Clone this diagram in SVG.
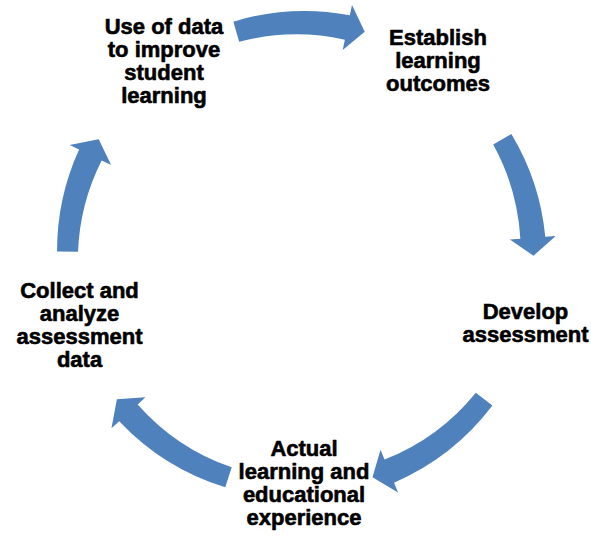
<svg xmlns="http://www.w3.org/2000/svg" width="591" height="540" viewBox="0 0 591 540">
  <style>
    .arrow { fill: #4F81BD; }
    .label { font-family: "Liberation Sans", Arial, sans-serif; font-weight: bold; font-size: 22px; fill: #000; stroke: #000; stroke-width: 0.6; stroke-linejoin: round; text-anchor: middle; }
  </style>
  <rect width="591" height="540" fill="#ffffff"/>

  <!-- curved cycle arrows around a common centre (300.5, 255.7), r = 233 -->
  <g id="connectors">
    <path class="arrow" d="M233.38,21.63 A244.5,244.5 0 0 1 349.87,15.21 L351.98,4.93 L364.72,31.73 L342.73,49.99 L344.84,39.70 A221.5,221.5 0 0 0 239.17,41.82 Z"/>
    <path class="arrow" d="M511.38,133.95 A244.5,244.5 0 0 1 545.28,236.87 L555.74,236.06 L533.50,255.70 L509.88,239.59 L520.35,238.78 A221.5,221.5 0 0 0 493.19,144.45 Z"/>
    <path class="arrow" d="M492.38,405.61 A244.5,244.5 0 0 1 394.05,482.68 L398.05,492.38 L372.50,477.30 L380.52,449.86 L384.53,459.56 A221.5,221.5 0 0 0 475.83,392.68 Z"/>
    <path class="arrow" d="M225.25,487.28 A244.5,244.5 0 0 1 119.21,421.24 L111.45,428.32 L116.89,399.15 L145.42,397.30 L137.67,404.38 A221.5,221.5 0 0 0 231.74,467.31 Z"/>
    <path class="arrow" d="M57.04,251.45 A244.5,244.5 0 0 1 79.10,149.62 L69.63,145.08 L98.72,139.20 L111.12,164.96 L101.65,160.42 A221.5,221.5 0 0 0 78.03,251.82 Z"/>
  </g>

  <g id="use-of-data">
    <text class="label" x="164" y="34.3">Use of data<tspan x="164" dy="23">to improve</tspan><tspan x="164" dy="23">student</tspan><tspan x="164" dy="23">learning</tspan></text>
  </g>
  <g id="establish-outcomes">
    <text class="label" x="438" y="45">Establish<tspan x="438" dy="23">learning</tspan><tspan x="438" dy="23">outcomes</tspan></text>
  </g>
  <g id="develop-assessment">
    <text class="label" x="525.5" y="319.3">Develop<tspan x="525.5" dy="23">assessment</tspan></text>
  </g>
  <g id="learning-experience">
    <text class="label" x="304" y="456">Actual<tspan x="304" dy="23">learning and</tspan><tspan x="304" dy="23">educational</tspan><tspan x="304" dy="23">experience</tspan></text>
  </g>
  <g id="collect-analyze">
    <text class="label" x="79.5" y="298">Collect and<tspan x="79.5" dy="23">analyze</tspan><tspan x="79.5" dy="23">assessment</tspan><tspan x="79.5" dy="23">data</tspan></text>
  </g>
</svg>
